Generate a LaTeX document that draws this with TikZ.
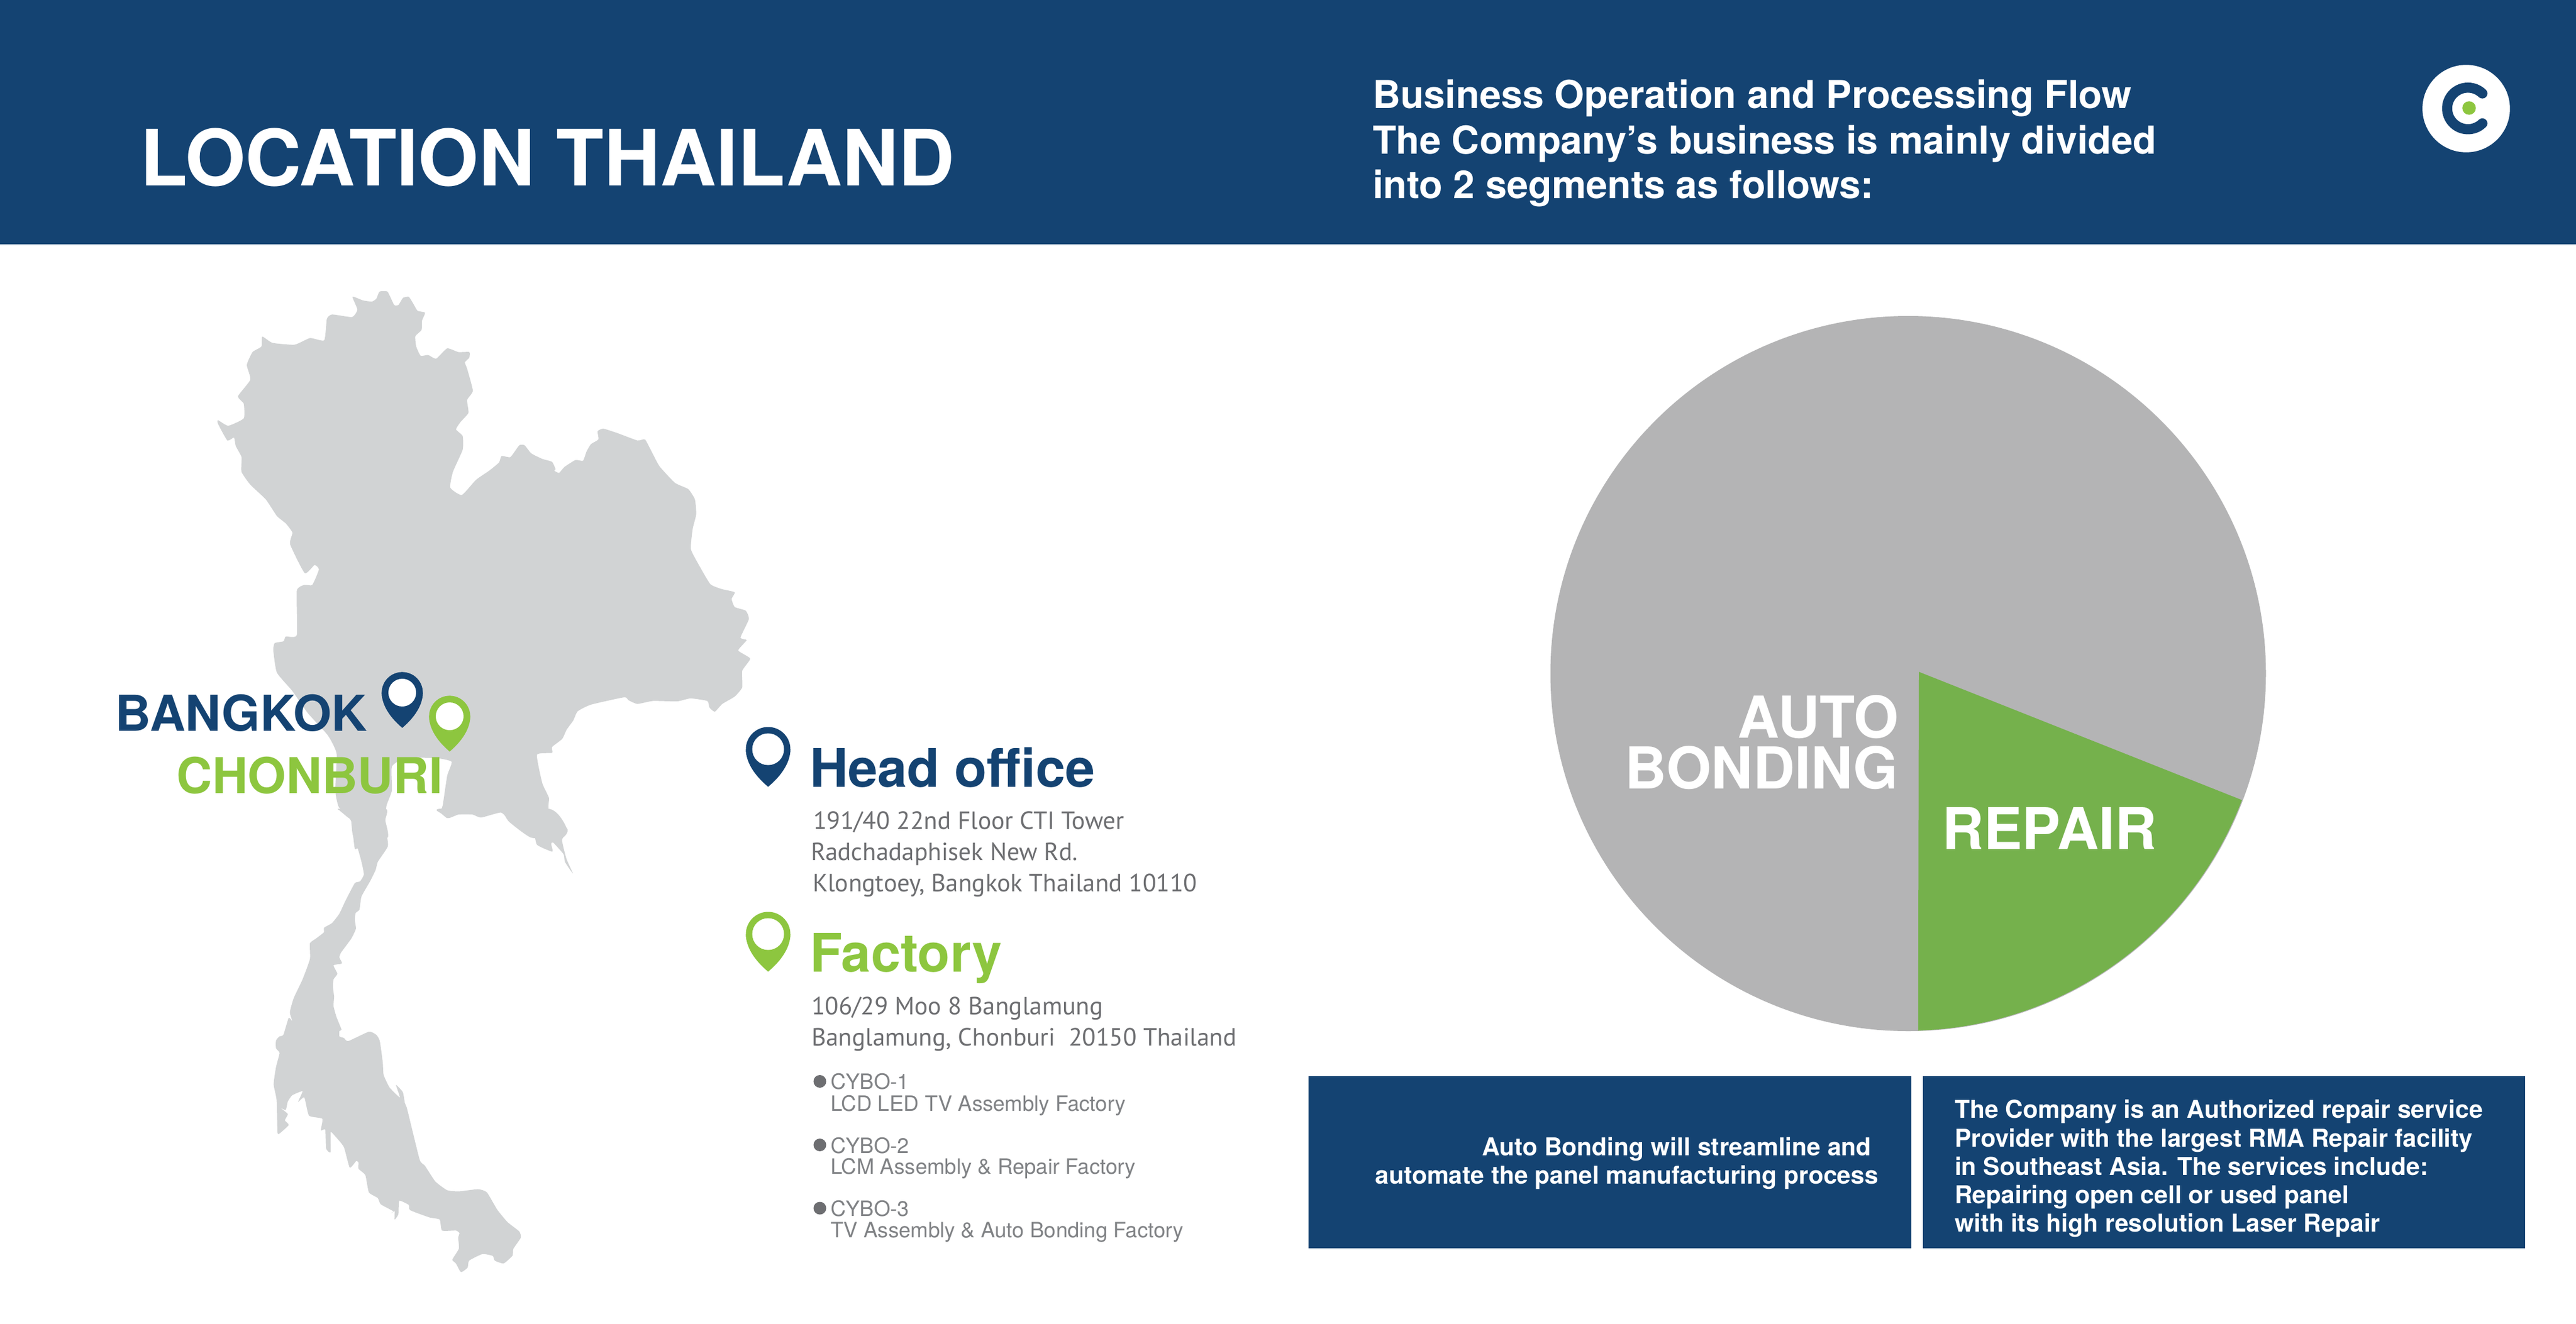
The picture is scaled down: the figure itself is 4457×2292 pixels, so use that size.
\documentclass[tikz,border=0pt]{standalone}
\usepackage{fontspec}
\setmainfont{TeX Gyre Heros}
\newfontfamily\addrfont{PT Sans}
\definecolor{navy}{HTML}{144372}
\definecolor{leaf}{HTML}{8DC63F}
\definecolor{pieleaf}{HTML}{75B14C}
\definecolor{piegray}{HTML}{B4B4B5}
\definecolor{mapgray}{HTML}{D1D3D4}
\definecolor{txtgray}{HTML}{6D6E71}
\definecolor{factgray}{HTML}{808285}
\newcommand\pxf[1]{\fontsize{\fpeval{#1*0.2}}{\fpeval{#1*0.24}}\selectfont}
\newcommand\locpin[6]{%
  \fill[#6] (#1,#2) circle (#3);
  \fill[#6] ({#1-#3},#2) .. controls ({#1-#3},{#2+0.5*#4}) and ({#1-0.2*#3},{#2+0.9*#4}) .. ({#1},{#2+#4})
     .. controls ({#1+0.2*#3},{#2+0.9*#4}) and ({#1+#3},{#2+0.5*#4}) .. ({#1+#3},#2) -- cycle;
  \fill[white] (#1,#2) circle (#5);}
\tikzset{
  lbl/.style={inner sep=0pt,outer sep=0pt,anchor=base west},
  lblr/.style={inner sep=0pt,outer sep=0pt,anchor=base east},
  title/.style={lbl,text=white,font=\bfseries\pxf{134.5}},
  hdr/.style={lbl,text=white,font=\bfseries\pxf{66.6}},
  city/.style={lbl,font=\bfseries\pxf{85.5}},
  head/.style={lbl,font=\bfseries\pxf{92}},
  addr/.style={lbl,text=txtgray,font=\addrfont\pxf{43.2}},
  fact/.style={lbl,text=factgray,font=\pxf{36.6}},
  pielbl/.style={text=white,font=\bfseries\pxf{100}},
  boxtxt/.style={text=white,font=\bfseries\pxf{42.6}},
}
\begin{document}
\begin{tikzpicture}[x=0.2pt,y=-0.2pt]
\useasboundingbox (0,0) rectangle (4457,2292);
\fill[white] (0,0) rectangle (4457,2292);
\fill[navy] (0,0) rectangle (4457,423);
% map
\begin{scope}[shift={(150,450)},xscale=0.7653,yscale=0.6378]
\fill[mapgray] plot[smooth cycle,tension=0.3] coordinates {(601,100)(625,110)(645,113)(655,105)(662,86)(680,86)(695,122)(705,122)(715,103)(728,100)(738,118)(748,138)(765,143)(758,165)(757,190)(743,207)(745,235)(755,260)(772,258)(790,268)(815,240)(840,250)(865,250)(865,265)(855,278)(860,295)(873,355)(860,380)(863,415)(845,440)(835,460)(850,478)(850,515)(828,575)(822,618)(848,638)(880,597)(910,572)(932,550)(938,532)(958,535)(978,503)(990,503)(1005,525)(1030,540)(1052,548)(1060,568)(1057,572)(1068,578)(1080,562)(1105,543)(1122,545)(1130,520)(1140,500)(1157,487)(1155,465)(1168,458)(1200,470)(1245,490)(1262,487)(1275,515)(1295,560)(1330,605)(1360,622)(1375,650)(1378,690)(1370,730)(1366,785)(1385,830)(1410,880)(1435,893)(1465,902)(1458,920)(1465,942)(1490,952)(1497,975)(1478,1025)(1492,1032)(1473,1060)(1500,1082)(1482,1115)(1482,1160)(1465,1185)(1437,1205)(1420,1226)(1408,1215)(1403,1197)(1365,1190)(1335,1198)(1280,1197)(1245,1205)(1225,1195)(1215,1187)(1140,1207)(1110,1225)(1100,1250)(1085,1275)(1075,1300)(1052,1322)(1052,1338)(1018,1343)(1030,1420)(1045,1460)(1045,1495)(1087,1545)(1075,1568)(1005,1568)(955,1525)(938,1498)(895,1512)(875,1505)(840,1505)(815,1515)(800,1497)(805,1480)(815,1400)(825,1362)(790,1352)(720,1352)(690,1375)(690,1440)(678,1480)(675,1520)(680,1568)(605,1568)(597,1515)(570,1485)(562,1440)(565,1340)(545,1290)(500,1230)(465,1170)(430,1120)(422,1060)(425,1040)(445,1035)(450,1022)(475,1018)(475,898)(492,882)(510,882)(525,840)(515,828)(493,850)(460,772)(465,740)(450,715)(430,695)(405,650)(370,610)(350,575)(350,535)(337,505)(333,482)(318,490)(297,445)(297,435)(320,450)(355,430)(355,390)(342,370)(370,325)(362,285)(375,250)(395,235)(397,208)(420,225)(470,230)(505,212)(537,218)(543,160)(555,148)(600,155)(612,135)};
\end{scope}
\begin{scope}[shift={(350,1400)},xscale=0.5102,yscale=0.5421]
\fill[mapgray] plot[smooth cycle,tension=0.3] coordinates {(622,0)(620,40)(630,115)(620,135)(595,170)(588,195)(570,230)(540,280)(533,322)(520,333)(517,355)(521,383)(505,415)(470,460)(465,475)(473,490)(472,495)(445,500)(458,527)(445,545)(443,570)(447,600)(445,630)(455,665)(472,705)(465,710)(465,727)(480,732)(495,742)(565,712)(590,722)(602,742)(612,810)(615,850)(635,890)(670,922)(657,882)(680,905)(687,940)(695,960)(737,1120)(755,1140)(790,1190)(830,1218)(870,1222)(935,1215)(965,1225)(1000,1280)(1035,1320)(1075,1350)(1080,1370)(1055,1405)(1052,1427)(1022,1452)(992,1443)(985,1428)(950,1422)(905,1443)(900,1465)(883,1478)(875,1478)(860,1452)(848,1440)(870,1405)(868,1370)(872,1355)(860,1347)(813,1347)(805,1312)(770,1305)(705,1282)(700,1265)(668,1252)(665,1295)(652,1312)(652,1285)(640,1292)(647,1285)(605,1263)(595,1243)(565,1225)(553,1170)(530,1150)(530,1130)(522,1125)(500,1146)(480,1080)(450,1045)(435,1033)(435,1097)(420,1085)(417,1025)(402,1027)(407,990)(362,980)(346,922)(325,936)(340,902)(305,915)(290,935)(283,962)(265,955)(290,975)(280,995)(293,1010)(262,1037)(255,1033)(252,930)(242,880)(250,825)(262,780)(250,765)(250,740)(262,727)(275,722)(293,668)(305,678)(297,650)(310,605)(340,545)(365,480)(365,430)(385,415)(412,395)(413,380)(440,365)(465,335)(485,295)(517,238)(535,232)(548,210)(540,170)(527,127)(517,127)(505,40)(490,25)(465,5)(465,0)};
\fill[mapgray] plot[smooth cycle,tension=0.3] coordinates {(1175,0)(1237,65)(1220,100)(1235,160)(1257,207)(1230,170)(1225,145)(1190,108)(1183,112)(1187,137)(1135,115)(1125,72)(1118,72)(1118,88)(1065,50)(1035,30)(1012,12)(945,28)(915,18)(870,18)(835,30)(810,15)(808,0)};
\end{scope}
% pins
\locpin{696}{1199}{35.6}{61}{24}{navy}
\locpin{778}{1240}{35.6}{61}{24}{leaf}
\locpin{1329}{1297}{38.5}{65}{27.5}{navy}
\locpin{1329}{1617}{38.5}{65}{27.5}{leaf}
% logo
\fill[white] (4267,188) circle (75.7);
\draw[navy,line width=3.5pt,line cap=round] (4270,187.7) ++(46:36) arc (46:314:36);
\fill[leaf] (4272,187) circle (11.7);
% header texts
\node[title] (loc) at (242,321) {LOCATION THAILAND};
\node[hdr] (h1) at (2375,187) {Business Operation and Processing Flow};
\node[hdr] (h2) at (2375,266) {The Company’s business is mainly divided};
\node[hdr] (h3) at (2375,343) {into 2 segments as follows:};
% cities
\node[city,text=navy] (bkk) at (200,1265) {BANGKOK};
\node[city,text=leaf] (chb) at (305,1373) {CHONBURI};
% head office
\node[head,text=navy] (hq) at (1401,1362) {Head office};
\node[addr] (a1) at (1407,1435) {191/40 22nd Floor CTI Tower};
\node[addr] (a2) at (1403,1489) {Radchadaphisek New Rd.};
\node[addr] (a3) at (1406,1543) {Klongtoey, Bangkok Thailand 10110};
\node[head,text=leaf] (fac) at (1401,1682) {Factory};
\node[addr] (b1) at (1404,1756) {106/29 Moo 8 Banglamung};
\node[addr] (b2) at (1404,1810) {Banglamung, Chonburi\ \ 20150 Thailand};
\fill[txtgray] (1418.5,1872) circle (11);
\fill[txtgray] (1418.5,1982) circle (11);
\fill[txtgray] (1418.5,2091.5) circle (11);
\node[fact] (c1) at (1437,1885) {CYBO-1};
\node[fact] (c1b) at (1437,1923) {LCD LED TV Assembly Factory};
\node[fact] (c2) at (1437,1996) {CYBO-2};
\node[fact] (c2b) at (1437,2032) {LCM Assembly \& Repair Factory};
\node[fact] (c3) at (1437,2105) {CYBO-3};
\node[fact] (c3b) at (1437,2142) {TV Assembly \& Auto Bonding Factory};
% pie
\fill[piegray] (3301.5,1166) circle (619);
\fill[pieleaf] (3320,1163) -- (3879,1385) arc (20.8:88.3:619) -- cycle;
\node[pielbl,lblr] (auto) at (3285,1277) {AUTO};
\node[pielbl,lblr] (bond) at (3284,1365) {BONDING};
\node[pielbl,lbl] (rep) at (3360,1470) {REPAIR};
% boxes
\fill[navy] (2264,1863) rectangle (3307,2161);
\fill[navy] (3327,1863) rectangle (4369,2161);
\node[boxtxt,lblr] (l1) at (3238,2000) {Auto Bonding will streamline and};
\node[boxtxt,lblr] (l2) at (3250,2049) {automate the panel manufacturing process};
\node[boxtxt,lbl] (r1) at (3382,1935) {The Company is an Authorized repair service};
\node[boxtxt,lbl] (r2) at (3382,1985) {Provider with the largest RMA Repair facility};
\node[boxtxt,lbl] (r3) at (3382,2034) {in Southeast Asia. The services include:};
\node[boxtxt,lbl] (r4) at (3382,2083) {Repairing open cell or used panel};
\node[boxtxt,lbl] (r5) at (3382,2132) {with its high resolution Laser Repair};
\end{tikzpicture}
\end{document}
